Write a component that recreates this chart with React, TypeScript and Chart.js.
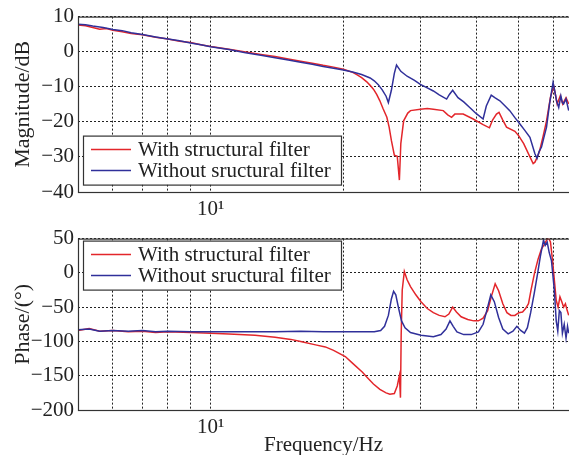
import React, { useEffect, useRef } from 'react';
import { Chart, registerables } from 'chart.js';

Chart.register(...registerables);

const SERIF = '"Liberation Serif", "Times New Roman", Times, serif';
const RED = '#e3262b';
const BLUE = '#30309a';
const INK = '#222222';
const GRID = '#222222';

const seriesLabels = ['With structural filter', 'Without sructural filter'];
const xTickValues = [5, 6, 7, 8, 9, 10, 20, 30, 40, 50, 60];
const xLabeledTick = 10;
const xLabeledText = '10\u00B9';
const xMin = 5;
const xMax = 65;
const magTickValues = [-40, -30, -20, -10, 0, 10];
const phaseTickValues = [-200, -150, -100, -50, 0, 50];

// Magnitude (dB)
const magRedFreq = [5, 5.2, 5.4, 5.6, 5.8, 6, 6.3, 6.6, 7, 7.5, 8, 8.5, 9, 9.5, 10, 11, 12, 13, 14, 15, 16, 17, 18, 19, 20, 21, 21.5, 22, 22.6, 23, 23.4, 23.8, 24.2, 24.6, 25.1, 25.4, 25.7, 26.1, 26.5, 26.8, 27.0, 27.4, 28, 28.4, 29.9, 31, 32, 33.7, 34.5, 35.2, 35.8, 37.4, 39.4, 41.5, 42.9, 43.6, 44.5, 45.1, 46, 46.9, 49, 50, 51.3, 53, 53.9, 54.4, 55.1, 55.8, 56.8, 57.8, 59, 60, 60.5, 61.1, 62.1, 62.9, 64, 64.9];
const magRed = [7.6, 7.4, 6.9, 6.4, 6.6, 6.1, 5.7, 5.2, 4.8, 4.1, 3.6, 3.0, 2.6, 2.0, 1.5, 0.7, -0.1, -0.8, -1.4, -2.1, -2.7, -3.3, -3.9, -4.4, -5.0, -5.9, -6.6, -7.4, -8.6, -9.6, -10.7, -12.2, -14.0, -16.2, -18.7, -21.5, -25.3, -29.5, -29.8, -36.6, -26.2, -19.7, -17.5, -16.8, -16.4, -16.2, -16.4, -16.8, -18.0, -18.7, -17.8, -17.8, -19.2, -20.8, -21.7, -19.5, -17.8, -17.3, -19.5, -21.5, -22.7, -24.0, -26.2, -30.0, -31.9, -31.5, -30.0, -28.1, -24.0, -19.7, -13.0, -9.8, -12.0, -14.9, -12.6, -14.9, -13.1, -14.9];

const magBlueFreq = [5, 5.2, 5.4, 5.7, 6, 6.3, 6.6, 7, 7.5, 8, 8.5, 9, 9.5, 10, 11, 12, 13, 14, 15, 16, 17, 18, 19, 20, 21, 22, 23, 23.5, 24, 24.5, 25, 25.3, 25.7, 26.1, 26.4, 27, 27.9, 29, 29.9, 31, 32, 33, 34.3, 34.8, 35.4, 36.4, 37.5, 38.7, 40, 41.5, 42.2, 43.3, 44.2, 45.3, 46.5, 47.7, 49, 50.3, 51.5, 53, 54.4, 55, 55.6, 56.3, 57, 57.8, 58.7, 59.8, 60.4, 60.9, 61.6, 62.3, 62.8, 63.2, 64, 64.9];
const magBlue = [7.8, 7.7, 7.3, 6.9, 6.3, 6.0, 5.4, 4.9, 4.2, 3.6, 3.1, 2.5, 2.0, 1.4, 0.6, -0.3, -1.0, -1.7, -2.4, -3.0, -3.6, -4.2, -4.7, -5.2, -5.8, -6.5, -7.5, -8.3, -9.4, -10.9, -12.7, -14.5, -11.0, -6.2, -3.8, -5.6, -7.0, -8.2, -9.3, -10.3, -11.2, -12.3, -13.5, -12.2, -11.0, -13.1, -14.3, -15.9, -17.6, -19.2, -15.5, -12.4, -13.2, -14.0, -15.4, -16.8, -18.8, -20.6, -22.3, -24.4, -29.1, -30.4, -28.5, -27.2, -24.5, -21.5, -15.0, -8.8, -11.5, -14.0, -15.9, -12.6, -14.5, -14.9, -13.5, -16.8];

// Phase (deg)
const phRedFreq = [5, 5.3, 5.6, 6, 6.5, 7, 7.5, 8, 9, 10, 11, 12.6, 14, 15.2, 16, 17.3, 18.2, 19, 20.2, 21, 22.1, 22.6, 23.4, 24.2, 25, 25.5, 26.1, 26.5, 26.8, 26.95, 27.05, 27.2, 27.5, 27.9, 28.4, 29.2, 30, 31, 32, 33, 34, 34.7, 35.4, 36.1, 37, 38.3, 39.5, 40.5, 41.5, 42.5, 43.3, 44.2, 45, 46, 47, 48, 49, 50, 51, 51.8, 52.6, 53.3, 54.3, 55.3, 56.3, 57.2, 58.3, 59, 59.6, 60.3, 60.8, 61.4, 62, 62.6, 63.2, 63.8, 64.4, 64.9];
const phRed = [-84, -81, -85, -84, -86, -85, -87, -86, -87, -88, -89, -91, -94, -97, -100, -105, -108, -113, -122, -132, -145, -152, -162, -170, -175, -177, -176, -165, -150, -182, -90, -25, 2, -10, -20, -32, -42, -52, -58, -62, -64, -60, -50, -57, -64, -68, -70, -70, -66, -55, -35, -16, -26, -45, -58, -62, -62, -58, -57, -52, -45, -25, 0, 20, 35, 42, 52, 45, 20, -15, -40, -50, -35, -42, -50, -45, -55, -62];

const phBlueFreq = [5, 5.3, 5.6, 6, 6.5, 7, 7.5, 8, 9, 10, 12, 14, 16, 18, 20, 22, 23.5, 24.3, 24.8, 25.3, 25.7, 26.0, 26.3, 26.7, 27.1, 27.6, 28.4, 30, 32, 33.3, 34.2, 34.9, 35.5, 36.2, 37.5, 39, 40.5, 41.5, 42.3, 43.2, 44, 45, 46, 47.3, 48.5, 49.5, 50.5, 51.5, 52.3, 53.2, 54.2, 55.2, 56, 56.9, 57.4, 58, 58.6, 59.3, 60.2, 60.8, 61.3, 61.8, 62.3, 62.8, 63.4, 64, 64.5, 64.9];
const phBlue = [-83, -82, -85, -84, -85, -84, -86, -85, -86, -86, -86, -86, -85, -86, -86, -86, -86, -84, -78, -62, -38, -27, -32, -52, -70, -80, -87, -91, -93, -90, -82, -70, -78, -86, -90, -90, -86, -75, -55, -32, -42, -65, -82, -89, -85, -78, -84, -88, -80, -58, -30, 0, 25, 48, 40, 45, 30, 18, -25, -70, -85, -55, -58, -88, -75, -95, -78, -88];

const pts = (xs: number[], ys: number[]) => xs.map((x, i) => ({ x, y: ys[i] }));

function makePlugin(legendDy: number) {
  return {
    id: 'frameLegend',
    afterDatasetsDraw(chart: any) {
      const { ctx, chartArea: a } = chart;
      ctx.save();
      ctx.setLineDash([]);
      ctx.strokeStyle = '#333';
      ctx.lineWidth = 1.2;
      ctx.strokeRect(a.left + 0.5, a.top + 0.5, a.right - a.left + 20, a.bottom - a.top);
      ctx.restore();
    },
    afterDraw(chart: any) {
      const { ctx, chartArea: a } = chart;
      const bx = a.left + 5;
      const by = a.top + legendDy;
      const bw = 258;
      const bh = 49;
      ctx.save();
      ctx.setLineDash([]);
      ctx.fillStyle = '#fff';
      ctx.fillRect(bx, by, bw, bh);
      ctx.strokeStyle = '#333';
      ctx.lineWidth = 1.2;
      ctx.strokeRect(bx + 0.5, by + 0.5, bw, bh);
      ctx.font = `21px ${SERIF}`;
      ctx.textBaseline = 'middle';
      ctx.textAlign = 'left';
      chart.data.datasets.forEach((ds: any, i: number) => {
        const cy = by + 14 + i * 21;
        ctx.strokeStyle = ds.borderColor;
        ctx.lineWidth = 1.5;
        ctx.beginPath();
        ctx.moveTo(bx + 8, cy);
        ctx.lineTo(bx + 48, cy);
        ctx.stroke();
        ctx.fillStyle = INK;
        ctx.fillText(ds.label, bx + 55, cy + 1);
      });
      ctx.restore();
    },
  };
}

function xScale(height: number, title: string | null) {
  return {
    type: 'logarithmic',
    min: xMin,
    max: xMax,
    afterBuildTicks: (s: any) => {
      s.ticks = xTickValues.map((v) => ({ value: v, major: false }));
    },
    afterFit: (s: any) => {
      s.height = height;
    },
    grid: { color: GRID, lineWidth: 1, drawTicks: false },
    border: { display: false, dash: [2, 2] },
    ticks: {
      autoSkip: false,
      maxRotation: 0,
      minRotation: 0,
      padding: 5,
      color: INK,
      font: { family: SERIF, size: 21 },
      callback: (v: any) => (Number(v) === xLabeledTick ? xLabeledText : ''),
    },
    title: title
      ? { display: true, text: title, color: INK, font: { family: SERIF, size: 21 }, padding: { top: 0, bottom: 1 } }
      : { display: false },
  };
}

function yScale(min: number, max: number, tickVals: number[], title: string) {
  return {
    type: 'linear',
    min,
    max,
    afterBuildTicks: (s: any) => {
      s.ticks = tickVals.map((v) => ({ value: v }));
    },
    afterFit: (s: any) => {
      s.width = 78;
    },
    grid: { color: GRID, lineWidth: 1, drawTicks: false },
    border: { display: false, dash: [2, 2] },
    ticks: {
      padding: 4,
      color: INK,
      font: { family: SERIF, size: 21 },
      callback: (v: any) => String(v).replace('-', '\u2212'),
    },
    title: { display: true, text: title, color: INK, font: { family: SERIF, size: 22 }, padding: { top: 10, bottom: 0 } },
  };
}

function datasets(redX: number[], redY: number[], blueX: number[], blueY: number[]) {
  return [
    { label: seriesLabels[0], data: pts(redX, redY), borderColor: RED, backgroundColor: RED, borderWidth: 1.5, pointRadius: 0, tension: 0, fill: false, order: 1 },
    { label: seriesLabels[1], data: pts(blueX, blueY), borderColor: BLUE, backgroundColor: BLUE, borderWidth: 1.5, pointRadius: 0, tension: 0, fill: false, order: 0 },
  ];
}

export default function App() {
  const topRef = useRef<HTMLCanvasElement>(null);
  const botRef = useRef<HTMLCanvasElement>(null);

  useEffect(() => {
    const common = {
      responsive: false,
      animation: false,
      devicePixelRatio: 1,
      plugins: { legend: { display: false }, tooltip: { enabled: false } },
    };
    const c1 = new Chart(topRef.current as HTMLCanvasElement, {
      type: 'line',
      data: { datasets: datasets(magRedFreq, magRed, magBlueFreq, magBlue) as any },
      options: {
        ...common,
        layout: { padding: { top: 15, right: 0, bottom: 0, left: 0 } },
        scales: { x: xScale(30, null) as any, y: yScale(-40, 10, magTickValues, 'Magnitude/dB') as any },
      } as any,
      plugins: [makePlugin(119)],
    });
    const c2 = new Chart(botRef.current as HTMLCanvasElement, {
      type: 'line',
      data: { datasets: datasets(phRedFreq, phRed, phBlueFreq, phBlue) as any },
      options: {
        ...common,
        layout: { padding: { top: 13, right: 0, bottom: 0, left: 0 } },
        scales: { x: xScale(49, 'Frequency/Hz') as any, y: yScale(-200, 50, phaseTickValues, 'Phase/(\u00B0)') as any },
      } as any,
      plugins: [makePlugin(2)],
    });
    return () => {
      c1.destroy();
      c2.destroy();
    };
  }, []);

  return (
    <div style={{ position: 'fixed', left: 0, top: 0, width: 569, height: 455, overflow: 'hidden', background: '#fff' }}>
      <canvas ref={topRef} width={569} height={222} style={{ position: 'absolute', left: 0, top: 0 }} />
      <canvas ref={botRef} width={569} height={237} style={{ position: 'absolute', left: 0, top: 222 }} />
    </div>
  );
}
